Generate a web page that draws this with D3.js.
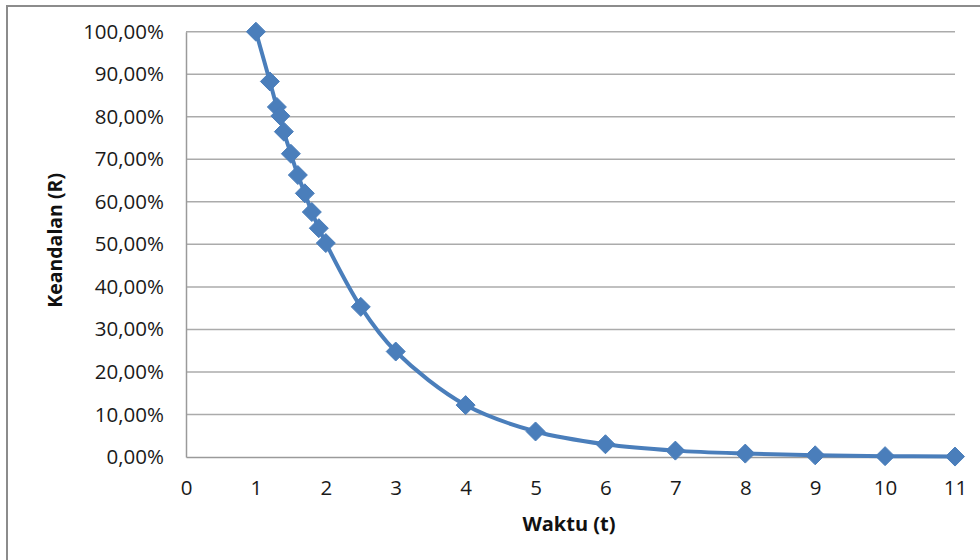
<!DOCTYPE html>
<html>
<head>
<meta charset="utf-8">
<script src="https://cdn.jsdelivr.net/npm/d3@7"></script>
<style>
  html, body { margin: 0; padding: 0; background: #fff; }
  svg { display: block; }
</style>
</head>
<body>
<svg id="chart" width="980" height="560"></svg>
<script>
// Data
const waktu = [1, 1.2, 1.3, 1.35, 1.4, 1.5, 1.6, 1.7, 1.8, 1.9, 2, 2.5, 3, 4, 5, 6, 7, 8, 9, 10, 11];
const keandalan = [1.0, 0.883, 0.823, 0.802, 0.765, 0.713, 0.663, 0.62, 0.576, 0.538, 0.503, 0.353, 0.248, 0.122, 0.06, 0.03, 0.015, 0.008, 0.004, 0.002, 0.001];
const xTicks = [0,1,2,3,4,5,6,7,8,9,10,11];
const yTicks = [0,0.1,0.2,0.3,0.4,0.5,0.6,0.7,0.8,0.9,1.0];
const xTitle = "Waktu (t)";
const yTitle = "Keandalan (R)";

(function () {
const svg = d3.select("#chart");
const W = 980, H = 560;
const mLeft = 186, mRight = 955, mTop = 31.7, mBottom = 457;

// chart border
svg.append("rect").attr("x", 7).attr("y", 6).attr("width", W + 20).attr("height", H + 20)
  .attr("fill", "#fff").attr("stroke", "#8c8c8c").attr("stroke-width", 2);

const x = d3.scaleLinear().domain([0, 11]).range([mLeft, mRight]);
const y = d3.scaleLinear().domain([0, 1]).range([mBottom, mTop]);

const font = "'Open Sans', 'Noto Sans', sans-serif";
const fmt = v => (v * 100).toFixed(2).replace(".", ",") + "%";

// gridlines
svg.append("g").selectAll("line").data(yTicks.filter(d => d > 0)).join("line")
  .attr("x1", mLeft).attr("x2", mRight)
  .attr("y1", d => y(d)).attr("y2", d => y(d))
  .attr("stroke", "#ababab").attr("stroke-width", 1.5);

// y axis
const yAxis = svg.append("g").attr("transform", `translate(${mLeft},0)`)
  .call(d3.axisLeft(y).tickValues(yTicks).tickFormat(fmt).tickSize(0).tickPadding(22));
yAxis.select(".domain").attr("stroke", "#9a9a9a").attr("stroke-width", 1.5);
yAxis.selectAll("text").attr("font-family", font).attr("font-size", 20.5).attr("fill", "#1a1a1a");

// x axis
const xAxis = svg.append("g").attr("transform", `translate(0,${mBottom})`)
  .call(d3.axisBottom(x).tickValues(xTicks).tickFormat(d3.format("d")).tickSize(0).tickPadding(23));
xAxis.select(".domain").attr("stroke", "#9a9a9a").attr("stroke-width", 1.5);
xAxis.selectAll("text").attr("font-family", font).attr("font-size", 20.5).attr("fill", "#1a1a1a");

// axis titles
svg.append("text").attr("x", 569).attr("y", 531).attr("text-anchor", "middle")
  .attr("font-family", font).attr("font-weight", "bold").attr("font-size", 20).attr("fill", "#111")
  .text(xTitle);
svg.append("text").attr("transform", `translate(62,${(mTop + mBottom) / 2 - 4}) rotate(-90)`)
  .attr("text-anchor", "middle")
  .attr("font-family", font).attr("font-weight", "bold").attr("font-size", 19.5).attr("fill", "#111")
  .text(yTitle);

const data = waktu.map((t, i) => ({ t, r: keandalan[i] }));
const color = "#4a7ebb";

// line
svg.append("path").datum(data)
  .attr("fill", "none").attr("stroke", color).attr("stroke-width", 4)
  .attr("stroke-linejoin", "round")
  .attr("d", d3.line().x(d => x(d.t)).y(d => y(d.r)).curve(d3.curveCatmullRom.alpha(0.5)));

// diamond markers
const h = 9.5;
svg.append("g").selectAll("path").data(data).join("path")
  .attr("transform", d => `translate(${x(d.t)},${y(d.r)})`)
  .attr("d", `M0,${-h}L${h},0L0,${h}L${-h},0Z`)
  .attr("fill", color).attr("stroke", color).attr("stroke-width", 1);
})();
</script>
</body>
</html>
